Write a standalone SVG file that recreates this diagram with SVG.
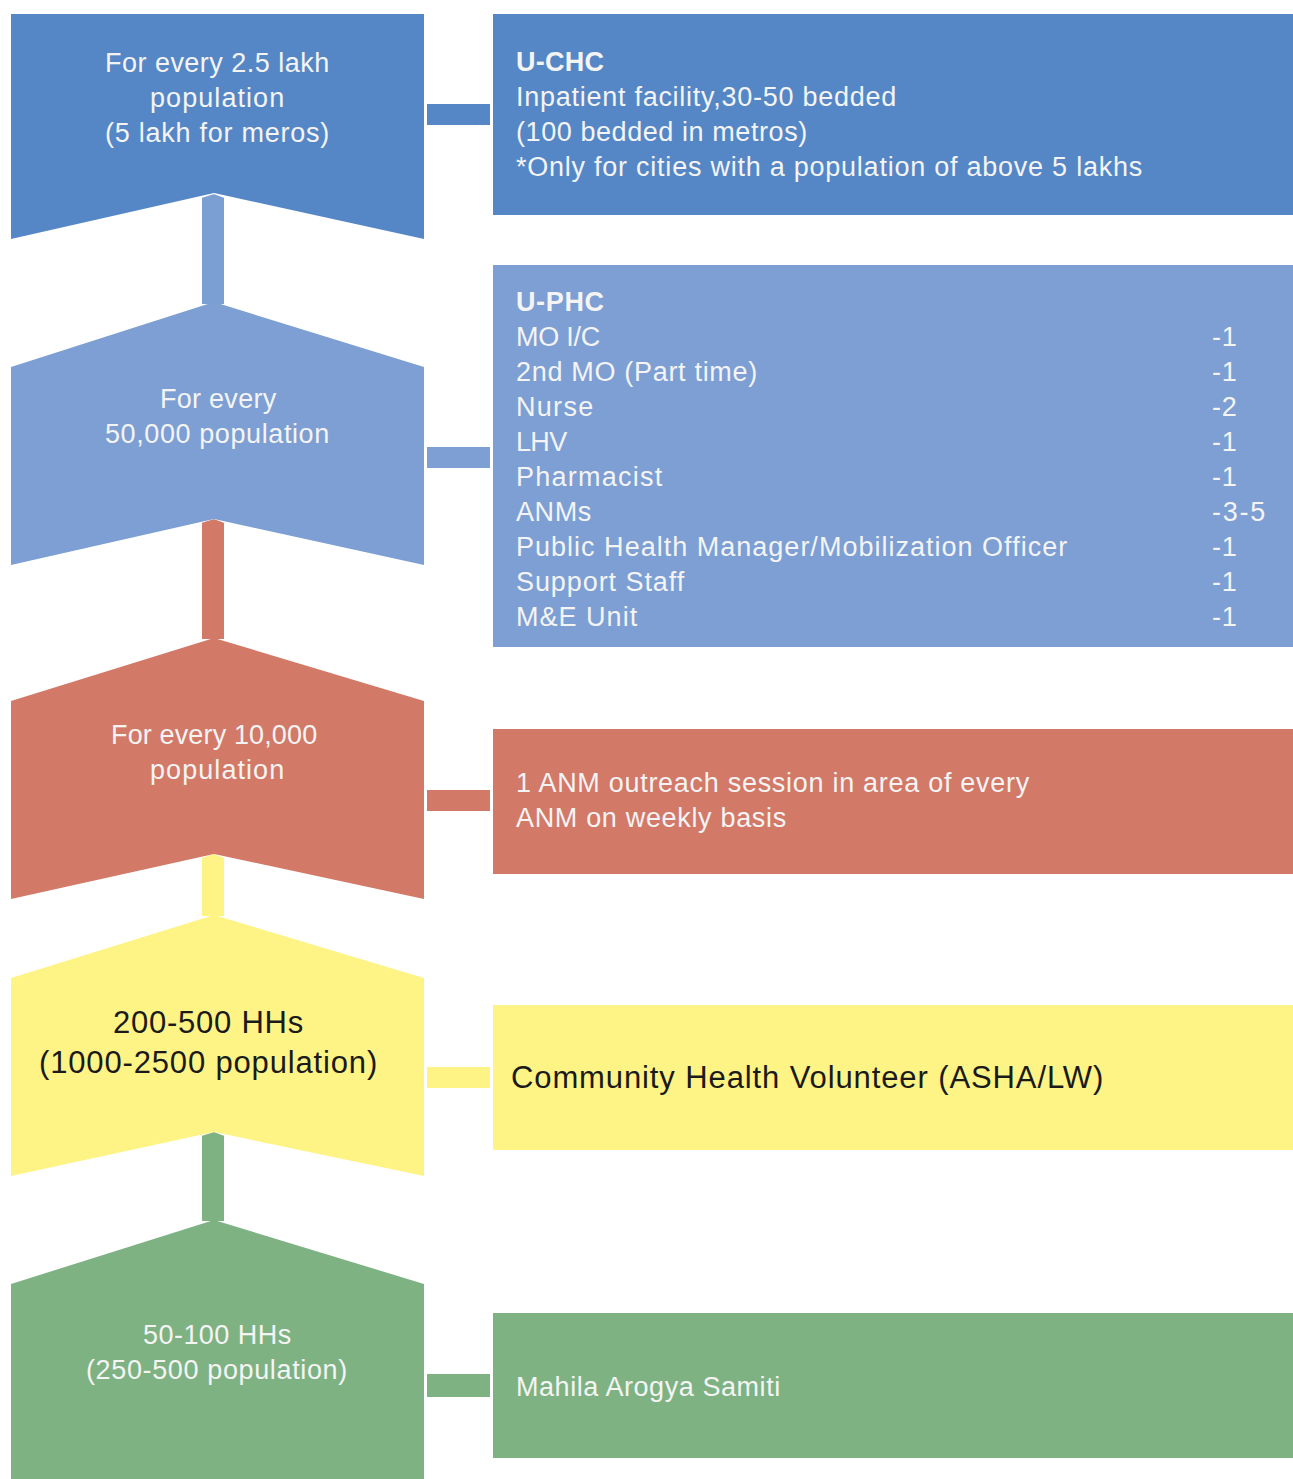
<svg xmlns="http://www.w3.org/2000/svg" width="1293" height="1479" viewBox="0 0 1293 1479">
<style>
text{font-family:"Liberation Sans",Arial,sans-serif;font-size:27px;fill:#f4f4f4;letter-spacing:0.8px}
.b{font-weight:bold;letter-spacing:0}
.k{fill:#1a1a1a;font-size:31px}
.vc{stroke:#fff;stroke-width:2}
</style>
<rect width="1293" height="1479" fill="#fff"/>
<g id="connectors">
<polygon class="vc" points="201,197 214,193 225,197 225,305 201,305" fill="#7c9fd3"/>
<polygon class="vc" points="201,522 214,518 225,522 225,640 201,640" fill="#d27968"/>
<polygon class="vc" points="201,857 214,853 225,857 225,917 201,917" fill="#fef486"/>
<polygon class="vc" points="201,1135 214,1131 225,1135 225,1222 201,1222" fill="#7eb282"/>
<rect x="427" y="104" width="63" height="21" fill="#5587c6"/>
<rect x="427" y="447" width="63" height="21" fill="#7d9fd3"/>
<rect x="427" y="790" width="63" height="21" fill="#d27968"/>
<rect x="427" y="1067" width="63" height="21" fill="#fef486"/>
<rect x="427" y="1374" width="63" height="23" fill="#7eb282"/>
</g>
<g id="n1">
<polygon points="11,14 424,14 424,239 214,193 11,239" fill="#5587c6"/>
<text x="105" y="72" textLength="225">For every 2.5 lakh</text>
<text x="150" y="107" textLength="135">population</text>
<text x="105" y="142" textLength="225">(5 lakh for meros)</text>
</g>
<g id="n2">
<polygon points="214,302 424,367 424,565 214,519 11,565 11,367" fill="#7d9fd3"/>
<text x="160" y="408" textLength="117">For every</text>
<text x="105" y="443" textLength="225">50,000 population</text>
</g>
<g id="n3">
<polygon points="214,638 424,701 424,899 214,854 11,899 11,701" fill="#d27968"/>
<text x="111" y="744" textLength="207">For every 10,000</text>
<text x="150" y="779" textLength="135">population</text>
</g>
<g id="n4">
<polygon points="214,915 424,978 424,1176 214,1132 11,1176 11,978" fill="#fef486"/>
<text class="k" x="113" y="1033" textLength="191">200-500 HHs</text>
<text class="k" x="39" y="1073" textLength="339">(1000-2500 population)</text>
</g>
<g id="n5">
<polygon points="214,1220 424,1284 424,1479 11,1479 11,1284" fill="#7eb282"/>
<text x="143" y="1344" textLength="149">50-100 HHs</text>
<text x="86" y="1379" textLength="262">(250-500 population)</text>
</g>
<g id="b1">
<rect x="493" y="14" width="800" height="201" fill="#5587c6"/>
<text class="b" x="516" y="71" textLength="88">U-CHC</text>
<text x="516" y="106" textLength="381">Inpatient facility,30-50 bedded</text>
<text x="516" y="141" textLength="292">(100 bedded in metros)</text>
<text x="516" y="176" textLength="627">*Only for cities with a population of above 5 lakhs</text>
</g>
<g id="b2">
<rect x="493" y="265" width="800" height="382" fill="#7d9fd3"/>
<text class="b" x="516" y="311" textLength="88">U-PHC</text>
<text x="516" y="346" textLength="85">MO I/C</text><text x="1212" y="346">-1</text>
<text x="516" y="381" textLength="242">2nd MO (Part time)</text><text x="1212" y="381">-1</text>
<text x="516" y="416" textLength="78">Nurse</text><text x="1212" y="416">-2</text>
<text x="516" y="451" textLength="52">LHV</text><text x="1212" y="451">-1</text>
<text x="516" y="486" textLength="147">Pharmacist</text><text x="1212" y="486">-1</text>
<text x="516" y="521" textLength="76">ANMs</text><text x="1212" y="521" textLength="54">-3-5</text>
<text x="516" y="556" textLength="552">Public Health Manager/Mobilization Officer</text><text x="1212" y="556">-1</text>
<text x="516" y="591" textLength="169">Support Staff</text><text x="1212" y="591">-1</text>
<text x="516" y="626" textLength="122">M&amp;E Unit</text><text x="1212" y="626">-1</text>
</g>
<g id="b3">
<rect x="493" y="729" width="800" height="145" fill="#d27968"/>
<text x="516" y="792" textLength="514">1 ANM outreach session in area of every</text>
<text x="516" y="827" textLength="271">ANM on weekly basis</text>
</g>
<g id="b4">
<rect x="493" y="1005" width="800" height="145" fill="#fef486"/>
<text class="k" x="511" y="1088" textLength="593">Community Health Volunteer (ASHA/LW)</text>
</g>
<g id="b5">
<rect x="493" y="1313" width="800" height="145" fill="#7eb282"/>
<text x="516" y="1396" textLength="265">Mahila Arogya Samiti</text>
</g>
</svg>
